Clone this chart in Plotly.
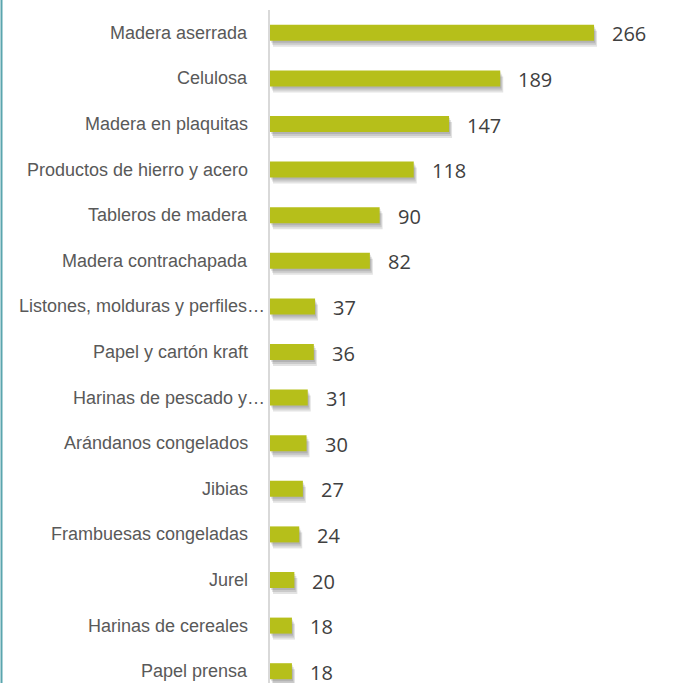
import plotly.graph_objects as go

categories = [
    "Madera aserrada",
    "Celulosa",
    "Madera en plaquitas",
    "Productos de hierro y acero",
    "Tableros de madera",
    "Madera contrachapada",
    "Listones, molduras y perfiles…",
    "Papel y cartón kraft",
    "Harinas de pescado y…",
    "Arándanos congelados",
    "Jibias",
    "Frambuesas congeladas",
    "Jurel",
    "Harinas de cereales",
    "Papel prensa",
]
values = [266, 189, 147, 118, 90, 82, 37, 36, 31, 30, 27, 24, 20, 18, 18]

BAR_COLOR = "#b6bf1a"
LABEL_FONT = "Liberation Sans, Arial, sans-serif"
VALUE_FONT = "Open Sans, Noto Sans, sans-serif"

W, H = 673, 683
ML, MR, MT, MB = 270, 1, 10, 0
plot_w = W - ML - MR
plot_h = H - MT - MB
row_px = 45.6
x_max = 330
px_x = plot_w / x_max  # pixels per unit along x
bar_w = 16 / row_px

fig = go.Figure()

# soft drop shadow, a few layered translucent bars behind the real ones
for k in (1, 2, 3):
    fig.add_bar(
        y=categories,
        x=values,
        base=[k * 1.0 / px_x] * len(values),
        orientation="h",
        width=bar_w,
        offset=-bar_w / 2 + k * 2.0 / row_px,
        marker=dict(color="rgba(0,0,0,0.11)", line=dict(width=0)),
        hoverinfo="skip",
        showlegend=False,
    )

fig.add_bar(
    y=categories,
    x=values,
    orientation="h",
    width=bar_w,
    offset=-bar_w / 2,
    marker=dict(color=BAR_COLOR, line=dict(width=0)),
    showlegend=False,
)

annotations = []
for cat, val in zip(categories, values):
    # value label right of the bar
    annotations.append(dict(
        x=val, y=cat, xref="x", yref="y",
        text=str(val), showarrow=False,
        xanchor="left", yanchor="middle", xshift=16, yshift=-1,
        font=dict(family=VALUE_FONT, size=20, color="#404040"),
    ))
    # category label (truncated ones sit closer to the axis, like Excel)
    annotations.append(dict(
        x=0, y=cat, xref="x", yref="y",
        text=cat, showarrow=False,
        xanchor="right", yanchor="middle",
        xshift=-3 if cat.endswith("…") else -20,
        font=dict(family=LABEL_FONT, size=18, color="#595959"),
    ))

fig.update_layout(
    width=W,
    height=H,
    margin=dict(l=ML, r=MR, t=MT, b=MB, pad=0),
    paper_bgcolor="white",
    plot_bgcolor="white",
    barmode="overlay",
    annotations=annotations,
    shapes=[dict(
        type="line", xref="paper", yref="paper",
        x0=-(ML - 1.5) / plot_w, x1=-(ML - 1.5) / plot_w, y0=-MB / plot_h, y1=1 + MT / plot_h,
        line=dict(color="#5aa5ae", width=2),
    )],
)
fig.update_xaxes(
    range=[0, x_max], showgrid=False, zeroline=False,
    showticklabels=False, ticks="", fixedrange=True,
)
fig.update_yaxes(
    type="category", categoryorder="array", categoryarray=categories,
    range=[len(categories) - 0.5 - (len(categories) * row_px - plot_h) / row_px, -0.5],
    showgrid=False, zeroline=False, showticklabels=False, ticks="",
    showline=True, linecolor="#d9d9d9", linewidth=1.5, fixedrange=True,
)

# drop the browser's default 8px body margin so the figure sits at 0,0
fig.write_html(
    "out.html",
    config={"displayModeBar": False},
    post_script="document.body.style.margin='0';",
)
